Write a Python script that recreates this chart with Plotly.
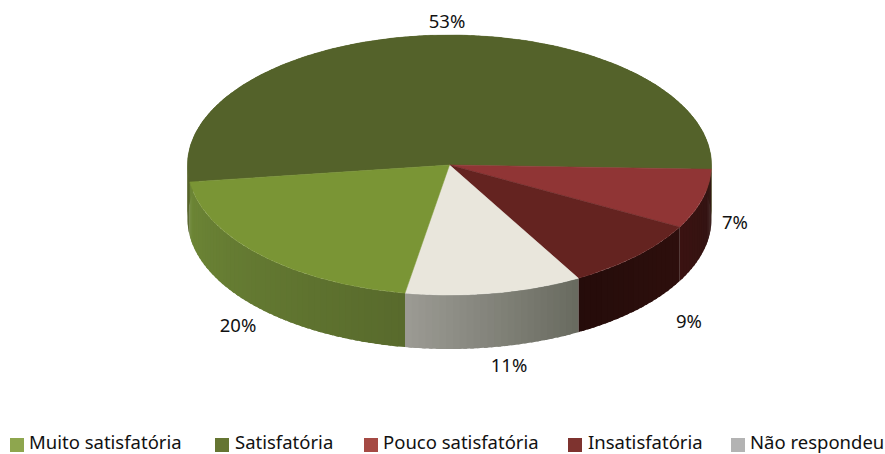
import numpy as np
import plotly.graph_objects as go

# Data (slice order is clockwise, starting at the Satisfatória slice)
categories = ["Satisfatória", "Pouco satisfatória", "Insatisfatória", "Não respondeu", "Muito satisfatória"]
values = [52.6, 7.4, 8.9, 10.9, 20.2]
labels = ["53%", "7%", "9%", "11%", "20%"]

legend_order = ["Muito satisfatória", "Satisfatória", "Pouco satisfatória", "Insatisfatória", "Não respondeu"]
legend_colors = ["#8ea64e", "#657532", "#a54a44", "#7e332f", "#b3b3b3"]
legend_x = [17, 222, 371, 575, 738]
legend_text_x = [29, 235, 383, 588, 750]

top_colors = ["#54622a", "#903535", "#642320", "#e9e6dc", "#7a9535"]
side_start = [(86, 100, 42), (48, 20, 18), (46, 15, 13), (104, 106, 95), (88, 106, 44)]
side_end = [(86, 100, 42), (58, 18, 17), (37, 12, 10), (156, 155, 148), (109, 134, 54)]

label_x = [447, 735, 689, 509, 238]
label_y = [23, 224, 323, 367, 327]

# Projection of the tilted disc on the page
CX, CY, RX, RY, DEPTH = 449.5, 165, 262, 130, 54
START = 262.5  # degrees clockwise from the top


def rim(theta_deg, drop=0.0):
    t = np.radians(theta_deg)
    return CX + RX * np.sin(t), CY - RY * np.cos(t) + drop


fig = go.Figure()
fractions = np.cumsum([0] + values) / sum(values) * 360 + START

# Side wall first: narrow strips carry the horizontal shading
for i in range(len(values)):
    a0, a1 = fractions[i], fractions[i + 1]
    n = max(6, int((a1 - a0) / 1.5))
    edges = np.linspace(a0, a1, n + 1)
    for j in range(n):
        f = (j + 0.5) / n
        rgb = [round(s + (e - s) * f) for s, e in zip(side_start[i], side_end[i])]
        col = f"rgb({rgb[0]},{rgb[1]},{rgb[2]})"
        # each strip overlaps the next one slightly so no seams show
        arc = np.linspace(edges[j], min(edges[j + 1] + 0.8, a1), 4)
        xt, yt = rim(arc)
        xb, yb = rim(arc[::-1], DEPTH)
        fig.add_trace(go.Scatter(
            x=np.r_[xt, xb, xt[0]], y=np.r_[yt, yb, yt[0]], mode="none",
            fill="toself", fillcolor=col,
            hoverinfo="skip", showlegend=False))

# Top surface
for i, cat in enumerate(categories):
    arc = np.linspace(fractions[i], fractions[i + 1], 180)
    xt, yt = rim(arc)
    fig.add_trace(go.Scatter(
        x=np.r_[CX, xt, CX], y=np.r_[CY, yt, CY], mode="lines", name=cat,
        fill="toself", fillcolor=top_colors[i], line=dict(color=top_colors[i], width=0.5),
        hoverinfo="name", showlegend=False))

# Data labels
fig.add_trace(go.Scatter(
    x=label_x, y=label_y, mode="text", text=labels,
    textfont=dict(family="Noto Sans", size=18.5, color="#111111"),
    textposition="middle center", hoverinfo="skip", showlegend=False))

# Legend row
fig.add_trace(go.Scatter(
    x=legend_x, y=[445] * len(legend_x), mode="markers", text=legend_order,
    marker=dict(symbol="square", size=14, color=legend_colors, line=dict(width=0)),
    hoverinfo="text", showlegend=False, cliponaxis=False))
fig.add_trace(go.Scatter(
    x=legend_text_x, y=[444.5] * len(legend_text_x), mode="text", text=legend_order,
    textposition="middle right",
    textfont=dict(family="Noto Sans", size=18.5, color="#111111"),
    hoverinfo="skip", showlegend=False, cliponaxis=False))

fig.update_layout(
    width=885, height=454, autosize=False,
    margin=dict(l=0, r=0, t=0, b=0),
    paper_bgcolor="white", plot_bgcolor="white", showlegend=False,
    xaxis=dict(range=[0, 885], visible=False, fixedrange=True),
    yaxis=dict(range=[454, 0], visible=False, fixedrange=True),
)
fig.write_html("out.html", config=dict(displayModeBar=False),
               post_script="document.body.style.margin='0';document.body.style.overflow='hidden';")
